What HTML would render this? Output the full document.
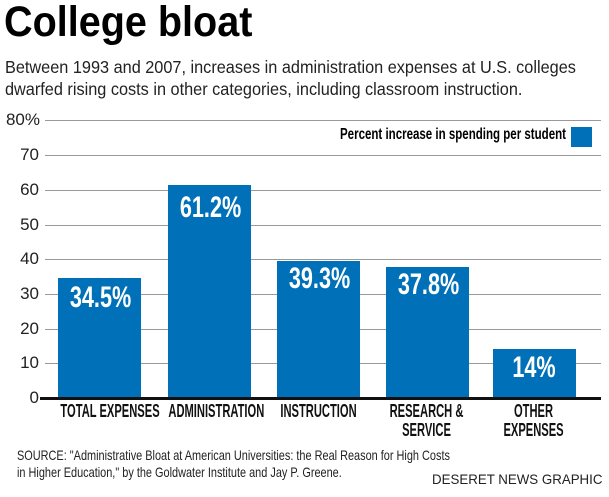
<!DOCTYPE html>
<html><head><meta charset="utf-8"><style>
body{margin:0;width:609px;height:497px;background:#fff;overflow:hidden;font-family:"Liberation Sans",sans-serif;}
.a{position:absolute;white-space:nowrap;}
.c{transform-origin:0 0;transform:scaleX(0.72);font-weight:bold;}
.g{position:absolute;left:45px;width:556px;height:1px;background:#999;}
.bar{position:absolute;background:#0071b8;width:83px;}
.v{position:absolute;color:#fff;font-weight:bold;font-size:30px;width:83px;text-align:center;}
.v span{display:inline-block;transform:scaleX(0.72);}
.y{position:absolute;right:570px;font-size:17px;color:#222;}
.l{position:absolute;width:140px;text-align:center;font-size:18px;font-weight:bold;line-height:19px;color:#111;white-space:nowrap;}
.l span{display:inline-block;transform:scaleX(0.62);}
</style></head><body>
<div class="a c" style="left:4px;top:-2px;font-size:43px;transform:scaleX(0.92)">College bloat</div>
<div class="a" style="left:5px;top:56px;font-size:17.5px;line-height:22px;color:#222;transform-origin:0 0;transform:scaleX(0.93)">Between 1993 and 2007, increases in administration expenses at U.S. colleges<br>dwarfed rising costs in other categories, including classroom instruction.</div>
<div class="g" style="top:120px"></div><div class="g" style="top:155px"></div><div class="g" style="top:190px"></div><div class="g" style="top:225px"></div><div class="g" style="top:259px"></div><div class="g" style="top:294px"></div><div class="g" style="top:329px"></div><div class="g" style="top:363px"></div>
<div class="y" style="top:110px;right:569px">80%</div>
<div class="y" style="top:145px">70</div><div class="y" style="top:180px">60</div><div class="y" style="top:215px">50</div><div class="y" style="top:249px">40</div><div class="y" style="top:284px">30</div><div class="y" style="top:319px">20</div><div class="y" style="top:353px">10</div><div class="y" style="top:388px">0</div>
<div style="position:absolute;left:336px;top:124px;width:273px;height:26px;background:#fff"></div>
<div class="a c" style="left:340px;top:126px;font-size:16px;transform:scaleX(0.72)">Percent increase in spending per student</div>
<div style="position:absolute;left:571px;top:127px;width:21px;height:20px;background:#0071b8"></div>
<div class="bar" style="left:58px;top:278px;height:120px"></div>
<div class="bar" style="left:168px;top:185px;height:213px"></div>
<div class="bar" style="left:277px;top:261px;height:137px"></div>
<div class="bar" style="left:386px;top:267px;height:131px"></div>
<div class="bar" style="left:493px;top:349px;height:49px"></div>
<div class="v" style="left:58px;top:281px"><span>34.5%</span></div>
<div class="v" style="left:168px;top:191px"><span>61.2%</span></div>
<div class="v" style="left:277px;top:262px"><span>39.3%</span></div>
<div class="v" style="left:386px;top:268px"><span>37.8%</span></div>
<div class="v" style="left:493px;top:351px"><span>14%</span></div>
<div style="position:absolute;left:40px;top:397px;width:561px;height:3px;background:#111"></div>
<div class="l" style="left:30px;top:402px"><span>TOTAL EXPENSES</span></div>
<div class="l" style="left:139px;top:402px"><span>ADMINISTRATION</span></div>
<div class="l" style="left:248px;top:402px"><span>INSTRUCTION</span></div>
<div class="l" style="left:357px;top:402px"><span>RESEARCH &amp;<br>SERVICE</span></div>
<div class="l" style="left:464px;top:402px"><span>OTHER<br>EXPENSES</span></div>
<div class="a" style="left:17px;top:447px;font-size:14px;line-height:17px;color:#222;transform-origin:0 0;transform:scaleX(0.78)">SOURCE: "Administrative Bloat at American Universities: the Real Reason for High Costs<br>in Higher Education," by the Goldwater Institute and Jay P. Greene.</div>
<div class="a" style="left:432px;top:471px;font-size:14px;color:#222;transform-origin:0 0;transform:scaleX(0.95)">DESERET NEWS GRAPHIC</div>
</body></html>
